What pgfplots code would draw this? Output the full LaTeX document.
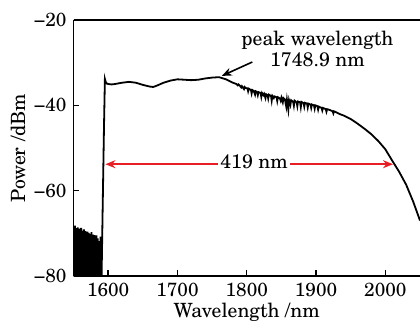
\documentclass[border=0pt]{standalone}
\usepackage{fontspec}
\setmainfont{TeX Gyre Schola}
\usepackage{pgfplots}
\pgfplotsset{compat=1.18}
\usetikzlibrary{arrows.meta}
\definecolor{annred}{RGB}{232,30,36}
\begin{document}
\begin{tikzpicture}
\begin{axis}[
  scale only axis,
  width=173.25pt, height=128pt,
  xmin=1550, xmax=2050, ymin=-80, ymax=-20,
  xtick={1600,1700,1800,1900,2000},
  ytick={-80,-60,-40,-20},
  yticklabels={−80,−60,−40,−20},
  axis x line*=bottom, axis y line*=left,
  axis line style={line width=0.7pt,-},
  tick style={line width=0.7pt, black},
  tick align=inside,
  major tick length=2.8pt,
  /pgf/number format/assume math mode=true,
  /pgf/number format/1000 sep={},
  tick label style={font=\fontsize{9.5}{10}\selectfont},
  xlabel={Wavelength /nm},
  ylabel={Power /dBm},
  label style={font=\fontsize{9.8}{11}\selectfont},
  xlabel style={at={(axis description cs:0.5,0)}, anchor=base, yshift=-20.5pt},
  ylabel style={at={(axis description cs:-0.16,0.5)}, anchor=center},
  clip=true,
]
\addplot[black, line width=0.9pt] coordinates {
(1550,-68.5)(1550.5,-80.5)(1551,-69)(1551.5,-79)(1552,-68.2)(1552.5,-81)(1553,-69.5)(1553.5,-78)(1554,-68.8)(1554.5,-80.5)
(1555,-70)(1555.5,-81)(1556,-68.6)(1556.5,-77)(1557,-69.2)(1557.5,-80.5)(1558,-68.9)(1558.5,-81)(1559,-70.5)(1559.5,-79)
(1560,-69)(1560.5,-81)(1561,-68.7)(1561.5,-78)(1562,-70.8)(1562.5,-80.5)(1563,-69.4)(1563.5,-81)(1564,-70)(1564.5,-79)
(1565,-69.1)(1565.5,-81)(1566,-71)(1566.5,-78)(1567,-69.5)(1567.5,-80.5)(1568,-69.8)(1568.5,-81)(1569,-71.5)(1569.5,-79)
(1570,-69.6)(1570.5,-81)(1571,-70.2)(1571.5,-78)(1572,-69.9)(1572.5,-80.5)(1573,-71.2)(1573.5,-81)(1574,-70.1)(1574.5,-79)
(1575,-70.6)(1575.5,-81)(1576,-69.7)(1576.5,-78)(1577,-71.8)(1577.5,-80.5)(1578,-70.3)(1578.5,-81)(1579,-70.9)(1579.5,-79)
(1580,-70.4)(1580.5,-81)(1581,-72)(1581.5,-78)(1582,-71)(1582.5,-80.5)(1583,-70.5)(1583.5,-81)(1584,-72.5)(1584.5,-79)
(1585,-71.2)(1585.5,-81)(1586,-73.5)(1586.5,-78)(1587,-71.8)(1587.5,-80.5)(1588,-72.8)(1588.5,-81)(1589,-70.8)(1589.5,-80.5)
(1590.5,-80.5)(1592,-65)(1594,-45)(1595.3,-33.8)(1596.5,-34.5)(1598,-34.9)(1600,-35.0)(1605,-35.1)(1610,-35.0)
(1620,-34.7)(1630,-34.5)(1640,-34.7)(1650,-35.2)(1660,-35.6)(1665,-35.7)(1670,-35.4)(1680,-34.7)(1690,-34.2)
(1700,-33.9)(1710,-34.0)(1720,-34.1)(1730,-34.0)(1740,-33.7)(1750,-33.5)(1760,-33.4)(1770,-33.9)(1780,-34.7)
(1785,-35.0)(1787,-35.3)(1788,-35.1)
(1790,-35.4)(1792,-35.8)(1793,-35.5)(1796,-36.2)(1797,-35.7)(1799,-36.0)(1801,-36.0)(1802,-36.7)(1803,-36.1)
(1806,-36.4)(1807,-37.2)(1808,-36.4)(1810,-36.6)(1812,-37.5)(1813,-36.7)(1815,-36.9)(1816,-37.6)(1817,-36.9)
(1820,-37.1)(1821,-38.0)(1822,-37.1)(1824,-37.6)(1825,-37.3)(1827,-38.3)(1828,-37.4)(1830,-37.6)(1831,-38.4)
(1832,-37.5)(1835,-37.8)(1836,-38.9)(1837,-37.8)(1839,-38.3)(1840,-37.9)(1843,-38.1)(1844,-39.0)(1845,-38.1)
(1848,-38.4)(1849,-38.9)(1850,-38.2)(1852,-39.3)(1853,-38.3)(1855,-38.6)(1857,-40.3)(1858,-38.7)(1860,-41.0)
(1861,-38.8)(1863,-39.9)(1864,-38.8)(1867,-39.2)(1868,-40.1)(1869,-38.9)(1872,-39.3)(1873,-40.2)(1874,-39.1)
(1877,-39.3)(1878,-40.4)(1879,-39.2)(1882,-39.5)(1883,-40.3)(1884,-39.4)(1887,-39.6)(1888,-40.5)(1889,-39.6)
(1892,-39.8)(1893,-40.6)(1894,-39.8)(1897,-40.0)(1898,-40.8)(1899,-40.0)(1902,-40.2)(1903,-41.0)(1904,-40.3)
(1908,-40.6)(1909,-41.2)(1910,-40.6)(1914,-40.9)(1915,-41.5)(1916,-40.9)(1920,-41.1)(1924,-41.4)(1925,-41.9)
(1926,-41.4)(1930,-41.7)(1935,-42.1)(1940,-42.4)
(1950,-43.2)(1960,-44.3)(1970,-45.5)(1980,-46.8)(1990,-48.4)(2000,-50.3)(2010,-53.0)(2020,-55.6)
(2030,-58.6)(2040,-62.5)(2050,-67.0)
};
\draw[line width=0.7pt] (rel axis cs:0,1) -- (rel axis cs:1,1);
\coordinate (SW) at (rel axis cs:0,0);
\coordinate (NE) at (rel axis cs:1,1);
% annotations
\node[anchor=base, font=\fontsize{9.8}{11}\selectfont, inner sep=0pt] at (axis cs:1902,-25.9) {peak wavelength};
\node[anchor=base, font=\fontsize{9.8}{11}\selectfont, inner sep=0pt] at (axis cs:1902,-30.95) {1748.9 nm};
\draw[line width=0.8pt, -{Stealth[length=5pt,width=4pt]}] (axis cs:1808,-29.85) -- (axis cs:1764,-33.1);
\node[anchor=base, font=\fontsize{9.8}{11}\selectfont, inner sep=0pt] at (axis cs:1810.5,-54.77) {419 nm};
\draw[annred, line width=0.8pt, -{Stealth[length=5pt,width=4pt]}] (axis cs:1758,-53.8) -- (axis cs:1596,-53.8);
\draw[annred, line width=0.8pt, -{Stealth[length=5pt,width=4pt]}] (axis cs:1863,-53.8) -- (axis cs:2011,-53.8);
\end{axis}
\pgfresetboundingbox
\path ([xshift=-36.75pt,yshift=-22.5pt]SW) rectangle ([yshift=10pt]NE);
\end{tikzpicture}
\end{document}
